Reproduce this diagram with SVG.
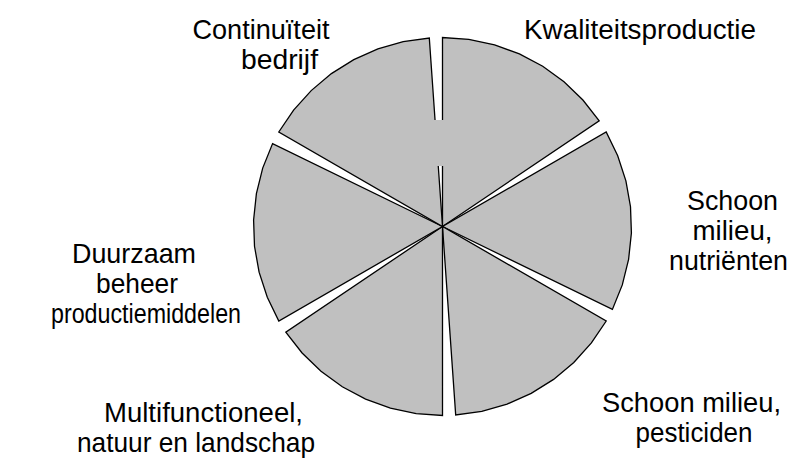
<svg xmlns="http://www.w3.org/2000/svg" width="791" height="461" viewBox="0 0 791 461">
<style>
.w{fill:#c0c0c0;stroke:#000;stroke-width:1.3;stroke-linejoin:miter}
text{font-family:"Liberation Sans",Arial,sans-serif;font-size:27.5px;fill:#000;text-anchor:middle}
</style>
<rect width="791" height="461" fill="#fff"/>
<g id="wedge-kwaliteit"><polygon class="w" points="442.5,226.5 599.2,120.8 582.9,100.0 564.0,81.7 542.7,66.2 519.4,53.9 494.6,44.8 468.8,39.3 442.5,37.5"/></g>
<g id="wedge-nutrienten"><polygon class="w" points="442.5,226.5 612.4,309.4 622.3,284.9 628.6,259.3 631.4,233.1 630.5,206.7 625.9,180.8 617.7,155.7 606.2,132.0"/></g>
<g id="wedge-pesticiden"><polygon class="w" points="442.5,226.5 455.7,415.0 481.8,411.4 507.1,404.1 531.2,393.4 553.6,379.4 573.8,362.5 591.4,342.9 606.2,321.0"/></g>
<g id="wedge-multifunctioneel"><polygon class="w" points="442.5,226.5 285.8,332.2 302.1,353.0 321.0,371.3 342.3,386.8 365.6,399.1 390.4,408.2 416.2,413.7 442.5,415.5"/></g>
<g id="wedge-duurzaam"><polygon class="w" points="442.5,226.5 272.6,143.6 262.7,168.1 256.4,193.7 253.6,219.9 254.5,246.3 259.1,272.2 267.3,297.3 278.8,321.0"/></g>
<g id="wedge-continuiteit"><polygon class="w" points="442.5,226.5 429.3,38.0 403.2,41.6 377.9,48.9 353.8,59.6 331.4,73.6 311.2,90.6 293.6,110.1 278.8,132.0"/></g>
<rect x="434" y="120" width="10" height="46" fill="#c0c0c0"/>
<g id="labels">
<text x="261" y="39" textLength="137" lengthAdjust="spacingAndGlyphs">Continuïteit</text>
<text x="279.5" y="69" textLength="77" lengthAdjust="spacingAndGlyphs">bedrijf</text>
<text x="640" y="39" textLength="232" lengthAdjust="spacingAndGlyphs">Kwaliteitsproductie</text>
<text x="732.5" y="210" textLength="91" lengthAdjust="spacingAndGlyphs">Schoon</text>
<text x="732.5" y="240" textLength="80" lengthAdjust="spacingAndGlyphs">milieu,</text>
<text x="728.5" y="270" textLength="119" lengthAdjust="spacingAndGlyphs">nutriënten</text>
<text x="134" y="263" textLength="124" lengthAdjust="spacingAndGlyphs">Duurzaam</text>
<text x="137" y="293" textLength="82" lengthAdjust="spacingAndGlyphs">beheer</text>
<text x="146" y="323" textLength="190" lengthAdjust="spacingAndGlyphs">productiemiddelen</text>
<text x="203.5" y="421.5" textLength="199" lengthAdjust="spacingAndGlyphs">Multifunctioneel,</text>
<text x="196" y="451.5" textLength="238" lengthAdjust="spacingAndGlyphs">natuur en landschap</text>
<text x="691.5" y="411.5" textLength="179" lengthAdjust="spacingAndGlyphs">Schoon milieu,</text>
<text x="694" y="441.5" textLength="117" lengthAdjust="spacingAndGlyphs">pesticiden</text>
</g>
</svg>
